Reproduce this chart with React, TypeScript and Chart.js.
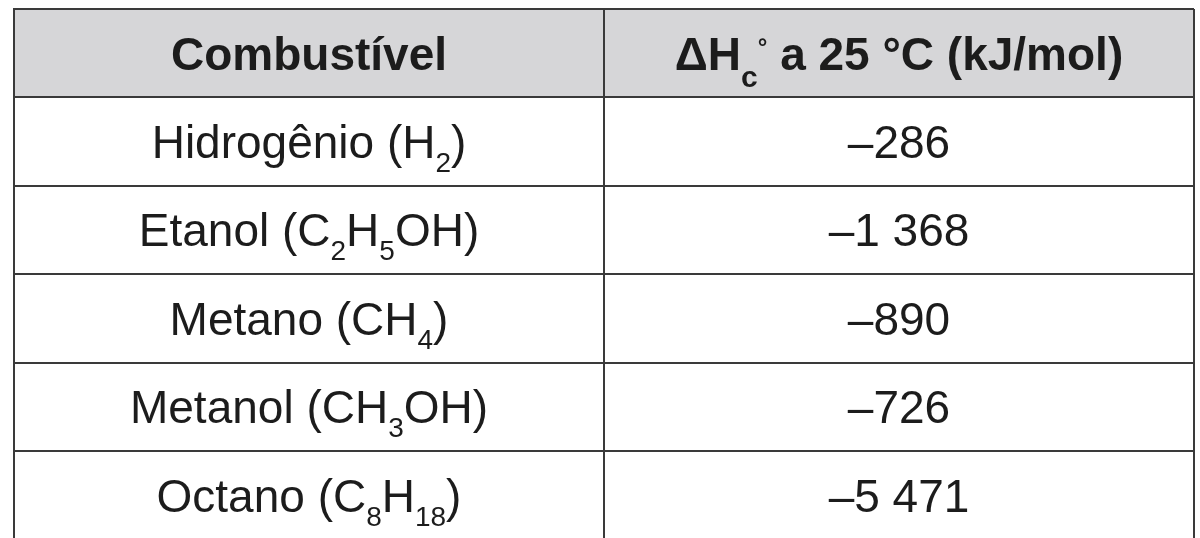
import React, { useEffect, useRef } from "react";
import { Chart, registerables } from "chart.js";

Chart.register(...registerables);

// ---- data ----
const headers: string[] = ["Combustível", "ΔH_{c}^{°} a 25 °C (kJ/mol)"];
const fuels: string[] = [
  "Hidrogênio (H_{2})",
  "Etanol (C_{2}H_{5}OH)",
  "Metano (CH_{4})",
  "Metanol (CH_{3}OH)",
  "Octano (C_{8}H_{18})",
];
const enthalpies: number[] = [-286, -1368, -890, -726, -5471];

const FONT = '"Liberation Sans", Arial, Helvetica, sans-serif';
const TEXT_COLOR = "#1c1c1c";
const LINE_COLOR = "#3a3a3a";
const HEADER_BG = "#d6d6d8";

function formatValue(v: number): string {
  const s = Math.abs(v)
    .toString()
    .replace(/\B(?=(\d{3})+(?!\d))/g, " ");
  return (v < 0 ? "\u2013" : "") + s;
}

type Seg = { text: string; kind: "n" | "sub" | "sup" };

function parse(str: string): Seg[] {
  const segs: Seg[] = [];
  const re = /([_^])\{([^}]*)\}/g;
  let last = 0;
  let m: RegExpExecArray | null;
  while ((m = re.exec(str))) {
    if (m.index > last) segs.push({ text: str.slice(last, m.index), kind: "n" });
    segs.push({ text: m[2], kind: m[1] === "_" ? "sub" : "sup" });
    last = re.lastIndex;
  }
  if (last < str.length) segs.push({ text: str.slice(last), kind: "n" });
  return segs;
}

function drawRich(
  ctx: CanvasRenderingContext2D,
  str: string,
  cx: number,
  cy: number,
  bold: boolean
) {
  const size = 46;
  const subSize = bold ? 30 : 28;
  const supSize = 24;
  const weight = bold ? "bold " : "";
  const segs = parse(str);
  const fontFor = (k: Seg["kind"]) =>
    weight + (k === "n" ? size : k === "sub" ? subSize : supSize) + "px " + FONT;
  let total = 0;
  const widths = segs.map((s) => {
    ctx.font = fontFor(s.kind);
    const w = ctx.measureText(s.text).width;
    total += w;
    return w;
  });
  const capH = size * 0.716;
  const baseline = cy + capH / 2;
  let x = cx - total / 2;
  ctx.textAlign = "left";
  ctx.textBaseline = "alphabetic";
  ctx.fillStyle = TEXT_COLOR;
  segs.forEach((s, i) => {
    ctx.font = fontFor(s.kind);
    let y = baseline;
    if (s.kind === "sub") y = baseline + (bold ? 17 : 14);
    if (s.kind === "sup") y = baseline - 15;
    ctx.fillText(s.text, x, y);
    x += widths[i];
  });
}

const tablePlugin = {
  id: "tableCells",
  beforeDraw(chart: any) {
    const { ctx, scales } = chart;
    const xs = scales.x;
    const ys = scales.y;
    ctx.save();
    ctx.fillStyle = "#ffffff";
    ctx.fillRect(0, 0, chart.width, chart.height);
    // header background
    const x0 = xs.getPixelForValue(0);
    const x2 = xs.getPixelForValue(headers.length);
    const y0 = ys.getPixelForValue(0);
    const y1 = ys.getPixelForValue(1);
    ctx.fillStyle = HEADER_BG;
    ctx.fillRect(x0, y0, x2 - x0, y1 - y0);
    ctx.restore();
  },
  afterDraw(chart: any) {
    const { ctx, scales } = chart;
    const xs = scales.x;
    const ys = scales.y;
    ctx.save();
    const colCenter = (c: number) => xs.getPixelForValue(c + 0.5);
    const rowCenter = (r: number) => ys.getPixelForValue(r + 0.5);
    headers.forEach((h, c) => drawRich(ctx, h, colCenter(c), rowCenter(0), true));
    fuels.forEach((f, r) => {
      drawRich(ctx, f, colCenter(0), rowCenter(r + 1), false);
      drawRich(ctx, formatValue(enthalpies[r]), colCenter(1), rowCenter(r + 1), false);
    });
    ctx.restore();
  },
};

export default function App() {
  const ref = useRef<HTMLCanvasElement | null>(null);
  useEffect(() => {
    if (!ref.current) return;
    const gridOpts = {
      color: LINE_COLOR,
      lineWidth: 2,
      drawTicks: false,
    };
    const chart = new Chart(ref.current, {
      type: "scatter",
      data: { datasets: [] },
      options: {
        responsive: false,
        animation: false,
        devicePixelRatio: 1,
        layout: { padding: { left: 14, top: 9, right: 6, bottom: 20.6 } },
        plugins: { legend: { display: false }, tooltip: { enabled: false } },
        events: [],
        scales: {
          x: {
            type: "linear",
            min: 0,
            max: headers.length,
            ticks: { display: false, stepSize: 1 },
            grid: gridOpts,
            border: { display: true, color: LINE_COLOR, width: 2 },
            afterFit: (s: any) => {
              s.height = 0;
            },
          },
          y: {
            type: "linear",
            reverse: true,
            min: 0,
            max: fuels.length + 1,
            ticks: { display: false, stepSize: 1 },
            grid: gridOpts,
            border: { display: true, color: LINE_COLOR, width: 2 },
            afterFit: (s: any) => {
              s.width = 0;
            },
          },
        },
      },
      plugins: [tablePlugin],
    } as any);
    return () => chart.destroy();
  }, []);
  return (
    <div
      style={{
        position: "fixed",
        left: 0,
        top: 0,
        width: 1200,
        height: 538,
        overflow: "hidden",
        background: "#fff",
      }}
    >
      <canvas ref={ref} width={1200} height={560} style={{ display: "block" }} />
    </div>
  );
}
